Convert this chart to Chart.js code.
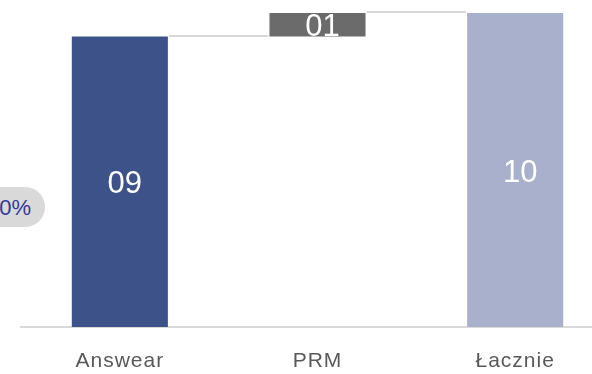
<!DOCTYPE html>
<html>
<head>
<meta charset="utf-8">
<script src="https://cdn.jsdelivr.net/npm/chart.js@4/dist/chart.umd.min.js"></script>
<style>
  html, body { margin: 0; padding: 0; background: #ffffff; overflow: hidden; width: 592px; height: 374px; }
  #wrap { position: absolute; left: 0; top: 0; width: 614px; height: 374px; }
  #pill {
    position: absolute; left: -40px; top: 187px; width: 85px; height: 40px;
    border-radius: 20px; background: #d9d9d9; color: #33389a;
    font-family: 'Liberation Sans', Arial, sans-serif; font-size: 22px;
    line-height: 41px; text-align: right; box-sizing: border-box; padding-right: 14px;
  }
</style>
</head>
<body>
<div id="wrap"><canvas id="c" width="614" height="374"></canvas></div>
<div id="pill">0%</div>
<script>
// ---- data ----
const categories = ["Answear", "PRM", "Łacznie"];
const values = [9.25, 0.75, 10];          // increments (last one is the total)
const isTotal = [false, false, true];
const valueLabels = ["09", "01", "10"];
const barColors = ["#3c5289", "#6b6b6b", "#a8b0cc"];

// floating ranges built from the increments
const ranges = [];
let run = 0;
values.forEach((v, i) => {
  if (isTotal[i]) { ranges.push([0, v]); run = v; }
  else { ranges.push([run, run + v]); run += v; }
});

const connectorPlugin = {
  id: 'connectors',
  beforeDatasetsDraw(chart) {
    const ctx = chart.ctx;
    const meta = chart.getDatasetMeta(0);
    const y = chart.scales.y;
    ctx.save();
    ctx.strokeStyle = '#d9d9d9';
    ctx.lineWidth = 2;
    for (let i = 0; i < meta.data.length - 1; i++) {
      const a = meta.data[i], b = meta.data[i + 1];
      const top = Math.max(ranges[i][0], ranges[i][1]);
      const py = Math.round(y.getPixelForValue(top)) - 1;
      ctx.beginPath();
      ctx.moveTo(a.x + a.width / 2 + 1, py);
      ctx.lineTo(b.x - b.width / 2 - 1, py);
      ctx.stroke();
    }
    ctx.restore();
  }
};

const labelPlugin = {
  id: 'valueLabels',
  afterDatasetsDraw(chart) {
    const ctx = chart.ctx;
    const meta = chart.getDatasetMeta(0);
    ctx.save();
    ctx.letterSpacing = '0px';
    ctx.fillStyle = '#ffffff';
    ctx.font = "31px 'Liberation Sans', Arial, sans-serif";
    ctx.textAlign = 'center';
    ctx.textBaseline = 'middle';
    meta.data.forEach((bar, i) => {
      const top = Math.min(bar.y, bar.base), bot = Math.max(bar.y, bar.base);
      ctx.save();
      ctx.beginPath();
      ctx.rect(bar.x - bar.width / 2, top, bar.width, bot - top);
      ctx.clip();
      ctx.fillText(valueLabels[i], bar.x + 5, (top + bot) / 2 + 3);
      ctx.restore();
    });
    ctx.restore();
  }
};

const spacingPlugin = {
  id: 'spacing',
  beforeDraw(chart) { chart.ctx.letterSpacing = '1px'; }
};

new Chart(document.getElementById('c'), {
  type: 'bar',
  data: {
    labels: categories,
    datasets: [{
      data: ranges,
      backgroundColor: barColors,
      borderWidth: 0,
      categoryPercentage: 1,
      barPercentage: 0.486
    }]
  },
  options: {
    responsive: false,
    animation: false,
    layout: { padding: { left: 21, right: 0, top: 13, bottom: 0 } },
    plugins: { legend: { display: false }, tooltip: { enabled: false } },
    scales: {
      x: {
        grid: { display: false, drawTicks: false },
        border: { display: true, color: '#d9d9d9', width: 2 },
        ticks: { color: '#595959', font: { size: 21, family: "'Liberation Sans', Arial, sans-serif" }, padding: 22 },
        afterFit(scale) { scale.height = 47; }
      },
      y: {
        display: false,
        min: 0,
        max: 10
      }
    }
  },
  plugins: [spacingPlugin, connectorPlugin, labelPlugin]
});
</script>
</body>
</html>
